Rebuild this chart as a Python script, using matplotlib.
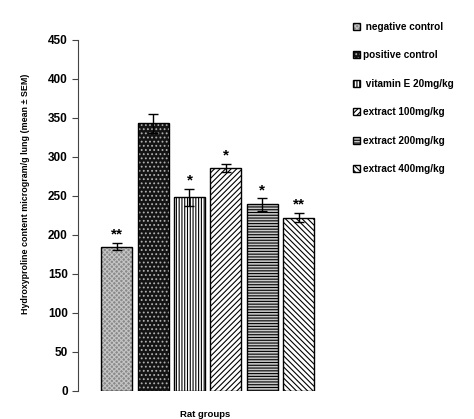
import matplotlib.pyplot as plt

plt.rcParams["font.family"] = ["Liberation Sans", "DejaVu Sans"]
plt.rcParams["hatch.linewidth"] = 0.8

groups = [" negative control", "positive control", " vitamin E 20mg/kg",
          "extract 100mg/kg", "extract 200mg/kg", "extract 400mg/kg"]
means = [185, 343, 248, 286, 239, 222]
sems = [5, 12, 11, 5, 8, 6]
stars = ["**", "", "*", "*", "*", "**"]

# fill colour, hatch colour, hatch pattern
styles = [
    ("#8a8a8a", "#c4c4c4", "xxxxxxx"),
    ("#141414", "#b0b0b0", "...."),
    ("#ffffff", "#000000", "||||||"),
    ("#ffffff", "#000000", "//////"),
    ("#c8c8c8", "#000000", "------"),
    ("#ffffff", "#000000", "\\\\\\\\\\\\"),
]

fig = plt.figure(figsize=(4.74, 4.19), dpi=100)
ax = fig.add_axes([0.165, 0.067, 0.534, 0.838])

x = list(range(len(means)))
handles = []
for i, (m, (fc, hc, h)) in enumerate(zip(means, styles)):
    b = ax.bar(i, m, width=0.85, color=fc, edgecolor=hc, hatch=h, linewidth=0)
    o = ax.bar(i, m, width=0.85, fill=False, edgecolor="black", linewidth=1.0)
    handles.append((b[0], o[0]))

ax.errorbar(x, means, yerr=sems, fmt="none", ecolor="black", elinewidth=1,
            capsize=3.5, capthick=1)

for i, s in enumerate(stars):
    if s:
        ax.text(i, means[i] + sems[i] + 1.5, s, ha="center", va="bottom",
                fontsize=11, fontweight="bold")

ax.set_xlim(-1.06, 5.9)
ax.set_ylim(0, 450)
ax.set_yticks(range(0, 451, 50))
ax.set_xticks([])
for sp in ["top", "right", "bottom"]:
    ax.spines[sp].set_visible(False)
ax.spines["left"].set_color("#444444")
ax.tick_params(axis="y", direction="out", length=4, color="#444444",
               labelsize=8.5)
for t in ax.get_yticklabels():
    t.set_fontweight("bold")

ax.set_xlabel("Rat groups", fontsize=6.8, fontweight="bold", labelpad=14)
ax.set_ylabel("Hydroxyproline content microgram/g lung (mean \u00b1 SEM)",
              fontsize=6.4, fontweight="bold")
ax.yaxis.set_label_coords(-0.19, 0.56)

fig.legend(handles, groups, loc="upper left", bbox_to_anchor=(0.725, 0.97),
           frameon=False, prop={"size": 7.2, "weight": "bold"},
           handlelength=0.7, handleheight=0.7, handletextpad=0.3,
           labelspacing=1.85)

fig.savefig("out.png", dpi=100)
